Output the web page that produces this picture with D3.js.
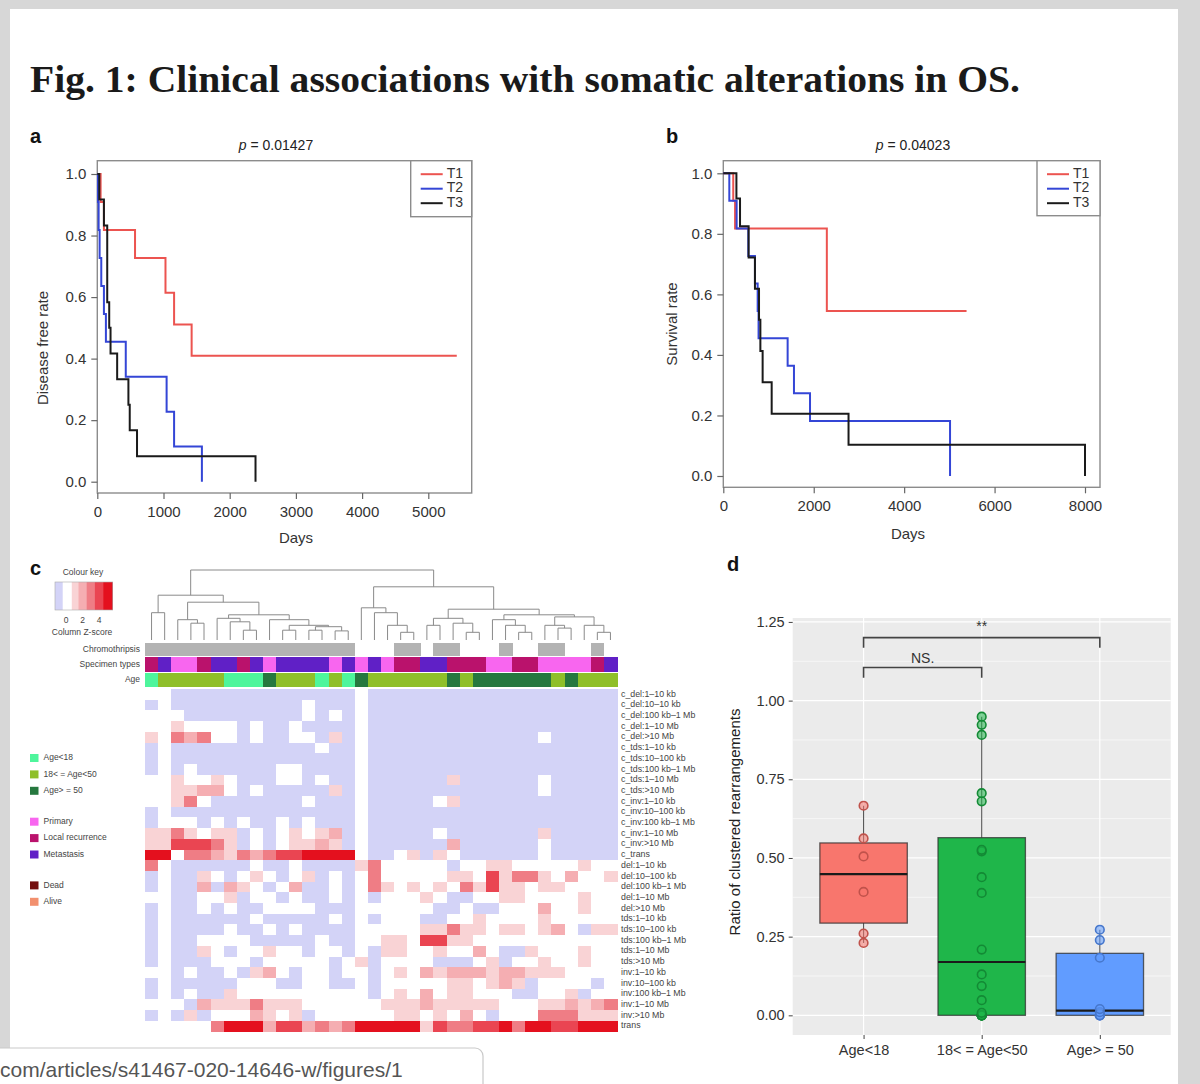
<!DOCTYPE html>
<html>
<meta charset="utf-8">
<style>
  body { margin: 0; background: #d7d7d7; }
  svg { display: block; font-family: "Liberation Sans", Arial, sans-serif; }
</style>

<body>
  <script src="https://d3js.org/d3.v7.min.js"></script>

  <script>
    let width = 1200,
      height = 1084;

    // ---- panel a / b : Kaplan-Meier curves (days, rate) ----
    let kmA_T1 = [[0, 1], [50, 0.909], [100, 0.818], [570, 0.727], [1030, 0.614], [1160, 0.511], [1425, 0.409], [5430, 0.409]];
    let kmA_T2 = [[0, 1], [10, 0.909], [20, 0.818], [35, 0.727], [60, 0.636], [100, 0.545], [130, 0.455], [430, 0.341], [1047, 0.227], [1160, 0.114], [1580, 0]];
    let kmA_T3 = [[0, 1], [30, 0.917], [100, 0.833], [150, 0.583], [180, 0.5], [200, 0.417], [300, 0.333], [470, 0.25], [490, 0.167], [600, 0.083], [2390, 0]];

    let kmB_T1 = [[0, 1], [220, 0.909], [260, 0.818], [2290, 0.545], [5380, 0.545]];
    let kmB_T2 = [[0, 1], [133, 0.909], [295, 0.818], [553, 0.727], [700, 0.636], [760, 0.545], [780, 0.455], [1423, 0.364], [1563, 0.273], [1918, 0.182], [5015, 0]];
    let kmB_T3 = [[0, 1], [290, 0.917], [370, 0.825], [560, 0.722], [700, 0.619], [790, 0.516], [820, 0.413], [870, 0.31], [1070, 0.206], [2770, 0.103], [8000, 0]];

    let kmNames = ["T1", "T2", "T3"];
    let kmColors = ["#ec5450", "#3446d6", "#1a1a1a"];
    let rateTicks = [0, 0.2, 0.4, 0.6, 0.8, 1.0];
    let daysTicksA = [0, 1000, 2000, 3000, 4000, 5000];
    let daysTicksB = [0, 2000, 4000, 6000, 8000];

    // ---- panel c : heatmap ----
    let rowLabels = ["c_del:1–10 kb", "c_del:10–10 kb", "c_del:100 kb–1 Mb", "c_del:1–10 Mb", "c_del:>10 Mb",
      "c_tds:1–10 kb", "c_tds:10–100 kb", "c_tds:100 kb–1 Mb", "c_tds:1–10 Mb", "c_tds:>10 Mb",
      "c_inv:1–10 kb", "c_inv:10–100 kb", "c_inv:100 kb–1 Mb", "c_inv:1–10 Mb", "c_inv:>10 Mb", "c_trans",
      "del:1–10 kb", "del:10–100 kb", "del:100 kb–1 Mb", "del:1–10 Mb", "del:>10 Mb",
      "tds:1–10 kb", "tds:10–100 kb", "tds:100 kb–1 Mb", "tds:1–10 Mb", "tds:>10 Mb",
      "inv:1–10 kb", "inv:10–100 kb", "inv:100 kb–1 Mb", "inv:1–10 Mb", "inv:>10 Mb", "trans"];

    // column z-scores, one row per label, 36 samples
    let zScores = [
      [0, 0, -1, -1, -1, -1, -1, -1, -1, -1, -1, -1, -1, -1, -1, -1, 0, -1, -1, -1, -1, -1, -1, -1, -1, -1, -1, -1, -1, -1, -1, -1, -1, -1, -1, -1],
      [-1, 0, -1, -1, -1, -1, -1, -1, -1, -1, -1, -1, 0, -1, -1, -1, 0, -1, -1, -1, -1, -1, -1, -1, -1, -1, -1, -1, -1, -1, -1, -1, -1, -1, -1, -1],
      [0, 0, 0, -1, -1, -1, -1, -1, -1, -1, -1, -1, 0, -1, 0, -1, 0, -1, -1, -1, -1, -1, -1, -1, -1, -1, -1, -1, -1, -1, -1, -1, -1, -1, -1, -1],
      [0, 0, 1, 0, 0, 0, 0, -1, 0, -1, -1, 0, -1, -1, -1, -1, 0, -1, -1, -1, -1, -1, -1, -1, -1, -1, -1, -1, -1, -1, -1, -1, -1, -1, -1, -1],
      [1, 0, 3, 2, 3, 0, 0, -1, 0, -1, -1, 0, 0, -1, 1, -1, 0, -1, -1, -1, -1, -1, -1, -1, -1, -1, -1, -1, -1, -1, 0, -1, -1, -1, -1, -1],
      [-1, 0, -1, -1, -1, -1, -1, -1, -1, -1, -1, -1, -1, 0, -1, -1, 0, -1, -1, -1, -1, -1, -1, -1, -1, -1, -1, -1, -1, -1, -1, -1, -1, -1, -1, -1],
      [-1, 0, -1, -1, -1, -1, -1, -1, -1, -1, -1, -1, -1, -1, -1, -1, 0, -1, -1, -1, -1, -1, -1, -1, -1, -1, -1, -1, -1, -1, -1, -1, -1, -1, -1, -1],
      [-1, 0, -1, 0, -1, -1, -1, -1, -1, -1, 0, 0, -1, -1, -1, -1, 0, -1, -1, -1, -1, -1, -1, -1, -1, -1, -1, -1, -1, -1, -1, -1, -1, -1, -1, -1],
      [0, 0, 1, 0, 0, 1, 0, -1, -1, -1, 0, 0, -1, 0, -1, -1, 0, -1, -1, -1, -1, -1, -1, 1, -1, -1, -1, -1, -1, -1, 0, -1, -1, -1, -1, -1],
      [0, 0, 1, 1, 2, 2, 0, -1, 0, -1, -1, -1, -1, -1, 1, -1, 0, -1, -1, -1, -1, -1, -1, -1, -1, -1, -1, -1, -1, -1, 0, -1, -1, -1, -1, -1],
      [0, 0, 1, 3, 0, -1, -1, -1, -1, -1, -1, -1, 0, -1, -1, -1, 0, -1, -1, -1, -1, -1, 0, 1, -1, -1, -1, -1, -1, -1, -1, -1, -1, -1, -1, -1],
      [-1, 0, -1, -1, -1, -1, -1, -1, -1, -1, -1, -1, -1, -1, -1, -1, 0, -1, -1, -1, -1, -1, -1, -1, -1, -1, -1, -1, -1, -1, -1, -1, -1, -1, -1, -1],
      [-1, 0, 0, 0, -1, 0, -1, 0, -1, -1, 0, -1, 0, -1, -1, -1, 0, -1, -1, -1, -1, -1, -1, -1, -1, -1, -1, -1, -1, -1, -1, -1, -1, -1, -1, -1],
      [1, 1, 3, 1, 0, 1, 1, -1, 0, -1, 0, 1, 0, 1, 2, -1, 0, -1, -1, -1, -1, -1, 0, -1, -1, -1, -1, -1, -1, -1, 1, -1, -1, -1, -1, -1],
      [1, 1, 4, 4, 4, 3, 1, -1, 0, -1, 0, 1, 1, 2, 1, -1, 0, -1, -1, -1, -1, -1, -1, 2, -1, -1, -1, -1, -1, -1, 0, -1, -1, -1, -1, -1],
      [5, 5, 0, 3, 3, 2, 1, 3, 2, 3, 4, 4, 5, 5, 5, 5, 0, -1, -1, 0, 1, -1, 1, 0, -1, -1, -1, -1, -1, -1, 0, -1, -1, -1, -1, -1],
      [3, 0, -1, -1, -1, -1, -1, -1, 0, -1, -1, 0, -1, -1, -1, -1, 1, 3, 0, 0, 0, 0, 0, -1, 0, 0, 1, 1, 0, 0, 0, 0, 0, 1, 0, 0],
      [-1, 0, -1, -1, 1, 0, -1, 0, 1, 0, -1, 0, 1, -1, 0, -1, 0, 3, 0, 0, 0, 0, 0, 1, 1, 0, 4, 1, 3, 3, 1, 0, 2, 0, 0, 1],
      [-1, 0, -1, -1, 2, -1, 2, 1, 0, -1, 0, 2, -1, -1, 0, -1, 0, 3, 1, 0, 1, 0, 1, 0, 3, 1, 4, 1, 1, 0, 1, 1, 0, 0, 0, 0],
      [0, 0, -1, -1, 0, 0, 1, -1, 0, 0, -1, 0, -1, -1, 0, -1, 0, -1, 0, 0, 0, 1, 0, -1, -1, 0, 0, 1, 1, 0, 0, 0, 0, 1, 0, 0],
      [-1, 0, -1, -1, 0, -1, 0, -1, -1, 0, 0, 0, 0, -1, -1, -1, 0, 0, 0, 0, 0, 0, -1, -1, 0, -1, -1, 0, 0, 0, 2, 0, 0, 1, 0, 0],
      [-1, 0, -1, -1, -1, -1, -1, -1, 0, -1, -1, -1, -1, -1, 0, -1, 0, -1, 0, 0, 0, -1, -1, 0, 0, 1, 0, 0, 0, 0, 1, 0, 0, 0, 0, 0],
      [-1, 0, -1, -1, -1, -1, 0, -1, -1, 0, -1, 0, -1, -1, -1, -1, 0, 0, 0, 0, 0, 1, 1, 3, 1, 1, 0, 1, 1, 0, 1, 2, 0, -1, 1, 1],
      [-1, 0, -1, -1, 0, 0, 0, 0, -1, -1, -1, -1, -1, 0, -1, -1, 0, 0, 1, 1, 0, 4, 4, 1, 1, 0, 0, 0, 0, 0, 0, 0, 0, 0, 0, 0],
      [-1, 0, -1, -1, 1, 0, -1, 0, 0, 1, 0, 0, -1, 0, 0, -1, 0, -1, 1, 1, 0, 0, 1, 0, 0, 2, 0, -1, -1, 1, 0, 0, 0, 1, 0, 0],
      [-1, 0, -1, -1, -1, 0, 0, 0, -1, 0, 0, 0, 0, 0, -1, 0, 1, -1, 0, 0, 0, 0, -1, -1, -1, 0, 1, -1, 0, 0, 1, 0, 0, 1, 0, 0],
      [0, 0, -1, 0, -1, -1, 0, -1, 1, 2, 0, -1, 0, 0, -1, 0, 0, -1, 0, 1, 0, 2, 1, 2, 2, 2, 1, 2, 2, 1, 1, 1, 0, 0, 0, 0],
      [-1, 0, -1, -1, -1, -1, -1, 0, 0, 0, -1, -1, 0, 0, -1, -1, 0, -1, 0, 0, 0, 0, 0, 1, 1, 0, 1, 2, 1, -1, 0, 0, 0, 0, -1, 0],
      [-1, 0, -1, 0, -1, -1, 1, 0, 0, 0, 0, 0, 0, 0, 0, 0, 0, -1, 0, 1, 0, 2, 0, 1, 1, 0, 0, 0, -1, -1, 0, 0, 1, -1, 0, 0],
      [0, 0, 0, -1, 2, 1, 1, 1, 3, 1, 1, 1, 0, 0, 0, 0, 0, 0, 1, 1, 1, 2, 1, 1, 1, 1, 1, 0, 0, 0, 1, 1, 2, 1, 2, 3],
      [-1, 0, -1, 1, -1, 0, 0, 0, 2, 1, 0, 1, -1, 0, 0, 0, 0, 0, 0, 1, 1, 0, 1, 0, 2, 0, -1, 0, 0, 0, 3, 3, 3, 1, 1, 1],
      [0, 0, 0, 0, 0, 3, 5, 5, 5, 2, 4, 4, 2, 3, 2, 3, 5, 5, 5, 5, 5, 1, 4, 3, 3, 4, 4, 5, 3, 5, 5, 4, 4, 5, 5, 5]
    ];

    // sample annotations (36 columns, dendrogram order)
    let chromothripsis = [1, 1, 1, 1, 1, 1, 1, 1, 1, 1, 1, 1, 1, 1, 1, 1, 0, 0, 0, 1, 1, 0, 1, 1, 0, 0, 0, 1, 0, 0, 1, 1, 0, 0, 1, 0];
    let specimenTypes = ["L", "M", "P", "P", "L", "M", "M", "L", "M", "P", "M", "M", "M", "M", "P", "M", "P", "M",
      "P", "L", "L", "M", "M", "L", "L", "L", "P", "P", "L", "L", "P", "P", "P", "P", "L", "M"];
    let ageGroups = ["Y", "A", "A", "A", "A", "A", "Y", "Y", "Y", "O", "A", "A", "A", "Y", "A", "Y", "O", "A",
      "A", "A", "A", "A", "A", "O", "A", "O", "O", "O", "O", "O", "O", "A", "O", "A", "A", "A"];

    // column dendrogram: h = merge height, c = children (numbers are leaf columns)
    let dendrogram = {
      h: 10, c: [
        { h: 6.4, c: [
          { h: 3.9, c: [0, 1] },
          { h: 5.4, c: [
            { h: 2.9, c: [2, { h: 2.4, c: [3, 4] }] },
            { h: 3.6, c: [
              { h: 3.1, c: [5, { h: 2.6, c: [6, { h: 1.4, c: [7, 8] }] }] },
              { h: 2.9, c: [9, { h: 2.1, c: [{ h: 1.4, c: [10, 11] }, { h: 1.9, c: [{ h: 1.4, c: [12, 13] }, { h: 1.3, c: [14, 15] }] }] }] }
            ] }
          ] }
        ] },
        { h: 7.6, c: [
          { h: 4.6, c: [16, { h: 3.9, c: [17, { h: 2.1, c: [18, { h: 1.1, c: [19, 20] }] }] }] },
          { h: 4.4, c: [
            { h: 3.1, c: [{ h: 2.1, c: [21, 22] }, { h: 2.4, c: [23, { h: 1.1, c: [24, 25] }] }] },
            { h: 3.6, c: [
              { h: 2.9, c: [26, { h: 2.1, c: [27, { h: 1.1, c: [28, 29] }] }] },
              { h: 3.3, c: [{ h: 2.1, c: [30, { h: 1.7, c: [31, 32] }] }, { h: 2.1, c: [33, { h: 1.1, c: [34, 35] }] }] }
            ] }
          ] }
        ] }
      ]
    };

    let ageLegend = [["Y", "Age<18", "#4ef59c"], ["A", "18< = Age<50", "#8fbf2a"], ["O", "Age> = 50", "#26783f"]];
    let specimenLegend = [["P", "Primary", "#f866ef"], ["L", "Local recurrence", "#ba126c"], ["M", "Metastasis", "#6020c6"]];
    let statusLegend = [["D", "Dead", "#730d0d"], ["S", "Alive", "#f2906e"]];

    let zBreaks = [-0.4, 0.7, 1.5, 2.5, 3.5, 4.5];
    let zColors = ["#d3d3f7", "#ffffff", "#f9d3d5", "#f5aeb2", "#ef7d85", "#ea4552", "#e4101e"];
    let keyTicks = [0, 2, 4];

    // ---- panel d : ratio of clustered rearrangements ----
    let ageCats = ["Age<18", "18< = Age<50", "Age> = 50"];
    let ratioLt18 = [0.666, 0.562, 0.505, 0.392, 0.26, 0.23];
    let ratio18to50 = [0.949, 0.923, 0.891, 0.706, 0.68, 0.526, 0.521, 0.439, 0.389, 0.209, 0.13, 0.093, 0.048, 0.008, 0, 0, 0, 0, 0, 0];
    let ratioGe50 = [0.272, 0.239, 0.183, 0.02, 0.01, 0, 0, 0];
    let ratioTicks = [0, 0.25, 0.5, 0.75, 1.0, 1.25];
    let ratioMinor = [0.125, 0.375, 0.625, 0.875, 1.125];
    let boxFills = ["#f8766d", "#1fb64a", "#619cff"];
    let pointStrokes = ["#c0524b", "#138a35", "#4677cc"];
    let comparisons = [
      { from: "Age<18", to: "18< = Age<50", label: "NS.", y: 1.105 },
      { from: "Age<18", to: "Age> = 50", label: "**", y: 1.2 }
    ];

    let svg = d3.select("body").append("svg")
      .attr("width", width)
      .attr("height", height);

    // page frame
    svg.append("rect").attr("width", width).attr("height", height).attr("fill", "#d7d7d7");
    svg.append("rect").attr("x", 10).attr("y", 9).attr("width", 1168).attr("height", height).attr("fill", "#fff");

    svg.append("text")
      .attr("x", 30).attr("y", 92)
      .attr("font-family", "'Liberation Serif', 'DejaVu Serif', serif")
      .attr("font-weight", "bold")
      .attr("font-size", 38)
      .attr("fill", "#1a1a1a")
      .attr("textLength", 990)
      .attr("lengthAdjust", "spacingAndGlyphs")
      .text("Fig. 1: Clinical associations with somatic alterations in OS.");

    function panelLetter(t, x, y) {
      svg.append("text").attr("x", x).attr("y", y)
        .attr("font-weight", "bold").attr("font-size", 20).attr("fill", "#111")
        .text(t);
    }


    function drawKM(cfg) {
      let x = d3.scaleLinear().domain(cfg.xDomain).range(cfg.xRange);
      let y = d3.scaleLinear().domain([0, 1]).range(cfg.yRange);
      let g = svg.append("g").attr("font-size", 15).attr("fill", "#333");
      let [bx0, by0, bx1, by1] = cfg.box;

      g.append("rect")
        .attr("x", bx0).attr("y", by0)
        .attr("width", bx1 - bx0).attr("height", by1 - by0)
        .attr("fill", "none").attr("stroke", "#8c8c8c").attr("stroke-width", 1.4);

      let xa = g.append("g")
        .attr("transform", `translate(0,${by1})`)
        .call(d3.axisBottom(x).tickValues(cfg.xTicks).tickSize(6).tickPadding(7).tickFormat(d3.format("d")));
      let ya = g.append("g")
        .attr("transform", `translate(${bx0},0)`)
        .call(d3.axisLeft(y).tickValues(rateTicks).tickSize(6).tickPadding(5).tickFormat(d3.format(".1f")));
      [xa, ya].forEach(a => {
        a.select(".domain").remove();
        a.selectAll("line").attr("stroke", "#666").attr("stroke-width", 1.2);
        a.selectAll("text").attr("font-size", 15).attr("fill", "#333")
          .attr("font-family", "'Liberation Sans', Arial, sans-serif");
      });

      let line = d3.line()
        .x(d => x(d[0]))
        .y(d => y(d[1]))
        .curve(d3.curveStepAfter);

      cfg.series.forEach((s, i) => {
        g.append("path")
          .attr("d", line(s))
          .attr("fill", "none")
          .attr("stroke", kmColors[i])
          .attr("stroke-width", 2);
      });

      // legend
      let lg = cfg.legend;
      g.append("rect")
        .attr("x", lg.x0).attr("y", by0)
        .attr("width", bx1 - lg.x0).attr("height", lg.h)
        .attr("fill", "#fff").attr("stroke", "#8c8c8c").attr("stroke-width", 1.4);
      kmNames.forEach((n, i) => {
        let yy = by0 + 13.5 + i * 14.5;
        g.append("line")
          .attr("x1", lg.x0 + 10).attr("x2", lg.x0 + 32)
          .attr("y1", yy).attr("y2", yy)
          .attr("stroke", kmColors[i]).attr("stroke-width", 2);
        g.append("text")
          .attr("x", lg.x0 + 36).attr("y", yy)
          .attr("dominant-baseline", "middle")
          .attr("font-size", 14)
          .text(n);
      });

      let pt = g.append("text")
        .attr("x", cfg.pX).attr("y", 150)
        .attr("text-anchor", "middle").attr("font-size", 14).attr("fill", "#222");
      pt.append("tspan").attr("font-style", "italic").text("p");
      pt.append("tspan").text(" = " + cfg.p);

      g.append("text")
        .attr("x", cfg.daysX).attr("y", cfg.daysY)
        .attr("text-anchor", "middle").attr("font-size", 15)
        .text("Days");
      g.append("text")
        .attr("transform", `translate(${cfg.yLabX},${cfg.yLabY}) rotate(-90)`)
        .attr("text-anchor", "middle").attr("font-size", 15)
        .text(cfg.yLabel);
    }

    panelLetter("a", 30, 143);
    drawKM({
      xDomain: [0, 5000], xRange: [97.3, 428.3], yRange: [481.7, 174],
      box: [97.3, 160.7, 471.7, 493], xTicks: daysTicksA,
      series: [kmA_T1, kmA_T2, kmA_T3],
      legend: { x0: 410.7, h: 56 },
      p: "0.01427", pX: 276,
      daysX: 296, daysY: 543,
      yLabel: "Disease free rate", yLabX: 48, yLabY: 348
    });

    panelLetter("b", 666, 143);
    drawKM({
      xDomain: [0, 8000], xRange: [723.3, 1085], yRange: [476, 173.3],
      box: [723.3, 160.7, 1100, 487.3], xTicks: daysTicksB,
      series: [kmB_T1, kmB_T2, kmB_T3],
      legend: { x0: 1037, h: 55 },
      p: "0.04023", pX: 913,
      daysX: 908, daysY: 539,
      yLabel: "Survival rate", yLabX: 677, yLabY: 324
    });


    // ---------------- panel c ----------------
    panelLetter("c", 30, 575);

    let hx = d3.scaleBand().domain(d3.range(36)).range([145, 617]);
    let hy = d3.scaleBand().domain(rowLabels).range([689, 1031.4]);
    let zColor = d3.scaleThreshold().domain(zBreaks).range(zColors);

    let hm = svg.append("g").attr("shape-rendering", "crispEdges");
    zScores.forEach((row, r) => {
      hm.selectAll(null)
        .data(row)
        .join("rect")
        .attr("x", (d, c) => hx(c))
        .attr("y", hy(rowLabels[r]))
        .attr("width", hx.bandwidth() + 0.6)
        .attr("height", hy.bandwidth() + 0.6)
        .attr("fill", d => zColor(d));
    });

    let labs = svg.append("g");
    labs.selectAll(".rowlab")
      .data(rowLabels)
      .join("text")
      .attr("x", 621)
      .attr("y", d => hy(d) + hy.bandwidth() / 2)
      .attr("dominant-baseline", "middle")
      .attr("font-size", 8.8)
      .attr("fill", "#444")
      .text(d => d);

    // annotation tracks
    let ageColor = new Map(ageLegend.map(d => [d[0], d[2]]));
    let specColor = new Map(specimenLegend.map(d => [d[0], d[2]]));
    let tracks = [
      { name: "Chromothripsis", y: 642.5, h: 13.5, color: (d, i) => chromothripsis[i] ? "#b3b3b3" : "none" },
      { name: "Specimen types", y: 657, h: 15, color: (d, i) => specColor.get(specimenTypes[i]) },
      { name: "Age", y: 672.5, h: 14.5, color: (d, i) => ageColor.get(ageGroups[i]) }
    ];
    tracks.forEach(t => {
      hm.selectAll(null)
        .data(d3.range(36))
        .join("rect")
        .attr("x", d => hx(d))
        .attr("y", t.y)
        .attr("width", hx.bandwidth() + 0.6)
        .attr("height", t.h)
        .attr("fill", t.color);
      labs.append("text")
        .attr("x", 140).attr("y", t.y + t.h / 2)
        .attr("text-anchor", "end").attr("dominant-baseline", "middle")
        .attr("font-size", 8.5).attr("fill", "#444")
        .text(t.name);
    });

    // dendrogram
    let dh = d3.scaleLinear().domain([0, 10]).range([640, 570]);
    let dendroG = svg.append("g").attr("stroke", "#8a8a8a").attr("stroke-width", 1).attr("fill", "none");
    function layoutNode(n) {
      if (typeof n === "number") return { x: hx(n) + hx.bandwidth() / 2, h: 0 };
      let kids = n.c.map(layoutNode);
      let x = d3.mean(kids, k => k.x);
      dendroG.append("path")
        .attr("d", `M${kids[0].x},${dh(kids[0].h)}V${dh(n.h)}H${kids[1].x}V${dh(kids[1].h)}`);
      return { x: x, h: n.h };
    }
    layoutNode(dendrogram);

    // colour key
    let keyX = d3.scaleLinear().domain([0, 4]).range([66, 99]);
    let keyLo = keyX.invert(55), keyHi = keyX.invert(112.7);
    let keyEdges = [keyLo].concat(zBreaks, [keyHi]);
    let keyG = svg.append("g");
    keyG.append("text").attr("x", 83).attr("y", 575).attr("text-anchor", "middle")
      .attr("font-size", 8.5).attr("fill", "#444").text("Colour key");
    keyG.selectAll("rect")
      .data(d3.pairs(keyEdges))
      .join("rect")
      .attr("x", d => keyX(d[0]))
      .attr("y", 582)
      .attr("width", d => keyX(d[1]) - keyX(d[0]) + 0.3)
      .attr("height", 28)
      .attr("fill", d => zColor((d[0] + d[1]) / 2));
    keyG.append("rect").attr("x", 55).attr("y", 582).attr("width", 57.7).attr("height", 28)
      .attr("fill", "none").attr("stroke", "#aaa").attr("stroke-width", 0.6);
    keyG.selectAll(".kt")
      .data(keyTicks)
      .join("text")
      .attr("x", d => keyX(d)).attr("y", 623)
      .attr("text-anchor", "middle").attr("font-size", 8.5).attr("fill", "#444")
      .text(d => d);
    keyG.append("text").attr("x", 82).attr("y", 635).attr("text-anchor", "middle")
      .attr("font-size", 8.5).attr("fill", "#444").text("Column Z-score");

    // side legend
    let sideLegend = [ageLegend, specimenLegend, statusLegend];
    let li = 0;
    sideLegend.forEach((grp, gi) => {
      grp.forEach(item => {
        let yy = 758 + li * 16.4 + gi * 14.5;
        svg.append("rect").attr("x", 30).attr("y", yy - 4).attr("width", 8.5).attr("height", 8)
          .attr("fill", item[2]);
        svg.append("text").attr("x", 43.5).attr("y", yy)
          .attr("dominant-baseline", "middle").attr("font-size", 8.5).attr("fill", "#444")
          .text(item[1]);
        li++;
      });
    });


    // ---------------- panel d ----------------
    panelLetter("d", 727, 571);

    let dx = d3.scalePoint().domain(ageCats).range([792.7, 1170.7]).padding(0.6);
    let dy = d3.scaleLinear().domain([-0.0625, 1.2625]).range([1035, 618]);
    let dg = svg.append("g");

    dg.append("rect").attr("x", 792.7).attr("y", 618).attr("width", 378).attr("height", 417).attr("fill", "#ebebeb");
    dg.selectAll(".minor")
      .data(ratioMinor)
      .join("line")
      .attr("x1", 792.7).attr("x2", 1170.7)
      .attr("y1", d => dy(d)).attr("y2", d => dy(d))
      .attr("stroke", "#fff").attr("stroke-width", 0.6);
    dg.selectAll(".major")
      .data(ratioTicks)
      .join("line")
      .attr("x1", 792.7).attr("x2", 1170.7)
      .attr("y1", d => dy(d)).attr("y2", d => dy(d))
      .attr("stroke", "#fff").attr("stroke-width", 1.2);
    dg.selectAll(".vmajor")
      .data(ageCats)
      .join("line")
      .attr("x1", d => dx(d)).attr("x2", d => dx(d))
      .attr("y1", 618).attr("y2", 1035)
      .attr("stroke", "#fff").attr("stroke-width", 1.2);

    let groupValues = [ratioLt18, ratio18to50, ratioGe50];
    let boxW = dx.step() * 0.74;
    ageCats.forEach((cat, i) => {
      let v = groupValues[i].slice().sort(d3.ascending);
      let q1 = d3.quantile(v, 0.25), med = d3.quantile(v, 0.5), q3 = d3.quantile(v, 0.75);
      let iqr = q3 - q1;
      let lo = d3.min(v.filter(d => d >= q1 - 1.5 * iqr));
      let hi = d3.max(v.filter(d => d <= q3 + 1.5 * iqr));
      let cx = dx(cat);
      dg.append("line").attr("x1", cx).attr("x2", cx).attr("y1", dy(hi)).attr("y2", dy(q3))
        .attr("stroke", "#555").attr("stroke-width", 1.1);
      dg.append("line").attr("x1", cx).attr("x2", cx).attr("y1", dy(q1)).attr("y2", dy(lo))
        .attr("stroke", "#555").attr("stroke-width", 1.1);
      dg.append("rect")
        .attr("x", cx - boxW / 2).attr("y", dy(q3))
        .attr("width", boxW).attr("height", dy(q1) - dy(q3))
        .attr("fill", boxFills[i])
        .attr("stroke", "rgba(45,45,45,0.75)").attr("stroke-width", 1.3);
      dg.append("line").attr("x1", cx - boxW / 2).attr("x2", cx + boxW / 2)
        .attr("y1", dy(med)).attr("y2", dy(med))
        .attr("stroke", "#1a1a1a").attr("stroke-width", 2.2);
      dg.selectAll(null)
        .data(v)
        .join("circle")
        .attr("cx", cx).attr("cy", d => dy(d)).attr("r", 4.3)
        .attr("fill", boxFills[i]).attr("fill-opacity", 0.55)
        .attr("stroke", pointStrokes[i]).attr("stroke-width", 1.6);
    });

    // significance brackets
    comparisons.forEach(cmp => {
      let x1 = dx(cmp.from), x2 = dx(cmp.to);
      dg.append("path")
        .attr("d", `M${x1},${dy(cmp.y - 0.032)}V${dy(cmp.y)}H${x2}V${dy(cmp.y - 0.032)}`)
        .attr("fill", "none").attr("stroke", "#444").attr("stroke-width", 1.6);
      dg.append("text")
        .attr("x", (x1 + x2) / 2).attr("y", dy(cmp.y) - (cmp.label === "**" ? 7 : 5))
        .attr("text-anchor", "middle").attr("font-size", 14).attr("fill", "#333")
        .text(cmp.label);
    });

    let dya = dg.append("g").attr("transform", "translate(792.7,0)")
      .call(d3.axisLeft(dy).tickValues(ratioTicks).tickSize(4).tickPadding(4).tickFormat(d3.format(".2f")));
    let dxa = dg.append("g").attr("transform", "translate(0,1035)")
      .call(d3.axisBottom(dx).tickSize(4).tickPadding(6));
    [dya, dxa].forEach(a => {
      a.select(".domain").remove();
      a.selectAll("line").attr("stroke", "#444");
      a.selectAll("text").attr("font-size", 14.5).attr("fill", "#333")
        .attr("font-family", "'Liberation Sans', Arial, sans-serif");
    });
    dg.append("text")
      .attr("transform", "translate(740,822) rotate(-90)")
      .attr("text-anchor", "middle").attr("font-size", 15).attr("fill", "#222")
      .text("Ratio of clustered rearrangements");


    // browser url bubble at the bottom
    svg.append("rect").attr("x", -12).attr("y", 1048).attr("width", 495).attr("height", 50).attr("rx", 8)
      .attr("fill", "#fff").attr("stroke", "#c9c9c9").attr("stroke-width", 1.2);
    svg.append("text").attr("x", 0).attr("y", 1077)
      .attr("font-size", 21).attr("fill", "#555")
      .text("com/articles/s41467-020-14646-w/figures/1");
  </script>

</body>

</html>
